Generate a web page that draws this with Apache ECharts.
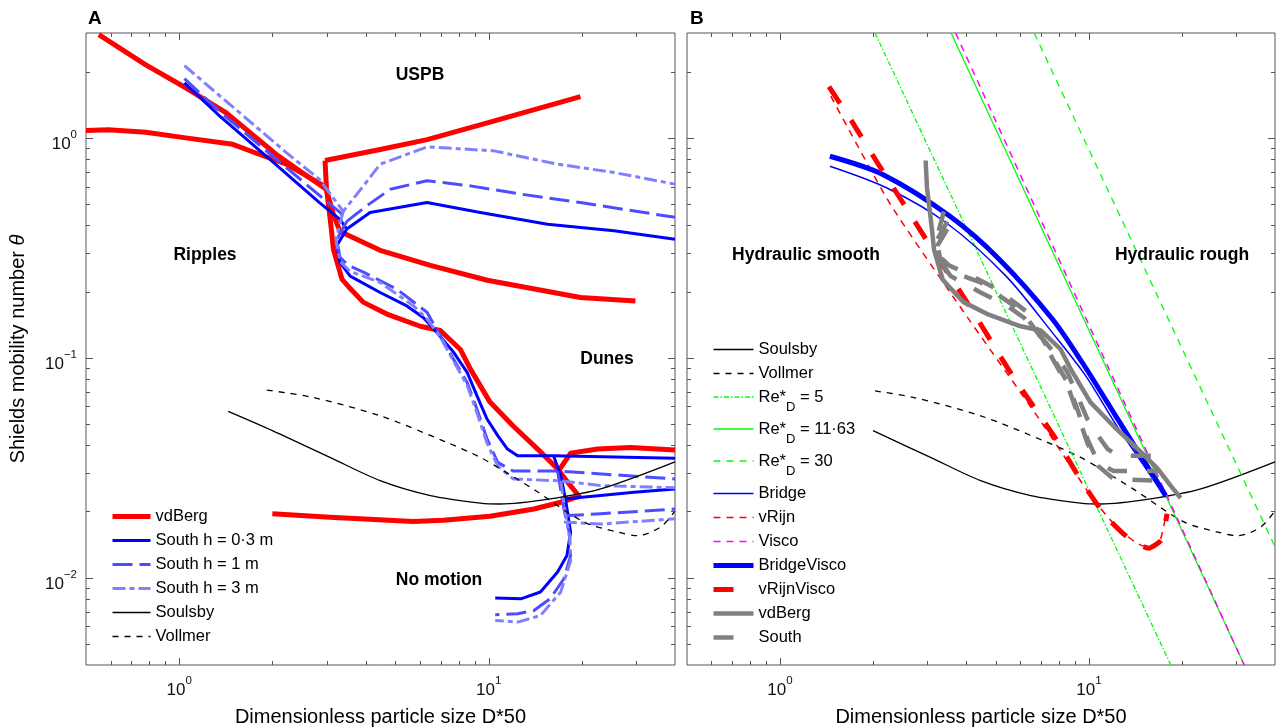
<!DOCTYPE html>
<html><head><meta charset="utf-8">
<script src="https://cdn.jsdelivr.net/npm/echarts@6/dist/echarts.min.js"></script>
<style>html,body{margin:0;padding:0;background:#fff}#c{width:1276px;height:727px}</style>
</head><body><div id="c"></div>
<script>
// ---------------- tick values / labels ----------------
const xTickMajor = [1, 10];
const xTickMinor = [0.6, 0.7, 0.8, 0.9, 2, 3, 4, 5, 6, 7, 8, 9, 20, 30];
const yTickMajor = [0.01, 0.1, 1];
const yTickMinor = [0.005, 0.006, 0.007, 0.008, 0.009, 0.02, 0.03, 0.04, 0.05, 0.06, 0.07, 0.08, 0.09,
                    0.2, 0.3, 0.4, 0.5, 0.6, 0.7, 0.8, 0.9, 2];
const xLabelExps = [0, 1];
const yLabelExps = [-2, -1, 0];

// ---------------- Panel A data ----------------
const vdBergFlatD = [0.50, 0.59, 0.78, 1.05, 1.49, 1.87, 2.22, 2.99];
const vdBergFlatT = [1.08, 1.09, 1.06, 1.00, 0.935, 0.829, 0.759, 0.595];
const vdBergDescD = [2.96, 2.99, 3.05, 3.11, 3.15, 3.26, 3.36, 3.52, 3.93, 4.74, 6.01, 6.98, 8.10, 8.73, 10.1, 12.0, 14.4, 16.7, 18.4, 19.8];
const vdBergDescT = [0.789, 0.595, 0.473, 0.372, 0.311, 0.263, 0.227, 0.211, 0.179, 0.157, 0.139, 0.133, 0.109, 0.0887, 0.0628, 0.0489, 0.0384, 0.0312, 0.0261, 0.0230];
const vdBergUspbD = [2.96, 4.46, 6.33, 9.90, 19.8];
const vdBergUspbT = [0.789, 0.885, 0.982, 1.17, 1.54];
const vdBergRippleD = [0.55, 0.78, 1.05, 1.42, 2.06, 2.99, 3.15, 3.31, 4.46, 6.48, 9.90, 19.8, 29.8];
const vdBergRippleT = [2.95, 2.15, 1.69, 1.30, 0.840, 0.582, 0.448, 0.375, 0.308, 0.263, 0.225, 0.188, 0.181];
const vdBergLowD = [2.00, 3.07, 5.71, 7.14, 10.1, 14.0, 17.1, 19.8];
const vdBergLowT = [0.0195, 0.0188, 0.0180, 0.0182, 0.0190, 0.0205, 0.0220, 0.0235];
const vdBergHighD = [16.8, 18.4, 22.5, 28.7, 40];
const vdBergHighT = [0.0305, 0.0368, 0.0384, 0.0390, 0.0380];

const s03TopD = [1.04, 1.35, 1.96, 2.84, 3.30, 3.48, 4.14, 6.32, 9.40, 15.5, 25.4, 40];
const s03TopT = [1.78, 1.26, 0.800, 0.508, 0.427, 0.385, 0.458, 0.508, 0.458, 0.405, 0.378, 0.346];
const s03DescD = [3.48, 3.23, 3.31, 3.57, 4.46, 5.44, 6.16, 6.81, 7.70, 8.52, 9.17, 9.88, 10.7, 11.5, 12.4, 16.2, 40];
const s03DescT = [0.385, 0.323, 0.271, 0.235, 0.198, 0.172, 0.152, 0.130, 0.106, 0.0857, 0.0671, 0.0526, 0.0442, 0.0384, 0.0358, 0.0358, 0.0349];
const s03HookD = [16.2, 17.1, 17.7, 18.4, 17.9, 16.7, 14.7, 12.7, 10.5];
const s03HookT = [0.0358, 0.0291, 0.0228, 0.0161, 0.0126, 0.0106, 0.00859, 0.0080, 0.00806];
const s03LowD = [17.8, 23.0, 29.5, 40];
const s03LowT = [0.0228, 0.0236, 0.0244, 0.0253];

const s1TopD = [1.04, 1.35, 1.96, 2.84, 3.31, 3.48, 4.04, 4.81, 6.32, 8.73, 12.7, 19.8, 40];
const s1TopT = [1.86, 1.32, 0.849, 0.547, 0.458, 0.417, 0.491, 0.584, 0.638, 0.605, 0.555, 0.508, 0.435];
const s1DescD = [3.48, 3.23, 3.31, 3.52, 3.94, 5.05, 6.32, 6.98, 7.70, 8.52, 9.17, 9.88, 10.7, 12.0, 16.7, 40];
const s1DescT = [0.417, 0.345, 0.286, 0.263, 0.245, 0.205, 0.161, 0.126, 0.0984, 0.0772, 0.0583, 0.0427, 0.0334, 0.0305, 0.0305, 0.0281];
const s1HookD = [16.7, 17.5, 18.2, 18.4, 17.5, 15.8, 14.0, 12.4, 10.5];
const s1HookT = [0.0305, 0.0205, 0.0161, 0.0126, 0.00987, 0.0080, 0.00708, 0.00684, 0.00677];
const s1LowD = [17.5, 23.0, 40];
const s1LowT = [0.0191, 0.0195, 0.0205];

const s3TopD = [1.04, 1.53, 2.22, 2.84, 3.39, 3.94, 4.46, 6.32, 10.4, 16.7, 25.4, 40];
const s3TopT = [2.13, 1.34, 0.857, 0.647, 0.463, 0.605, 0.759, 0.910, 0.873, 0.759, 0.696, 0.616];
const s3DescD = [3.39, 3.21, 3.31, 3.57, 4.46, 5.72, 6.32, 6.98, 7.70, 8.52, 9.17, 9.88, 10.7, 12.0, 17.1, 23.0, 40];
const s3DescT = [0.463, 0.345, 0.274, 0.247, 0.220, 0.172, 0.150, 0.124, 0.0964, 0.0750, 0.0560, 0.0409, 0.0322, 0.0281, 0.0275, 0.0262, 0.0256];
const s3HookD = [17.1, 17.7, 18.3, 18.4, 17.1, 14.7, 12.4, 10.5];
const s3HookT = [0.0275, 0.0195, 0.0150, 0.0119, 0.00859, 0.00672, 0.00627, 0.00638];
const s3LowD = [17.5, 23.0, 40];
const s3LowT = [0.0179, 0.0175, 0.0185];

const soulsbyD = [1.44, 2.00, 3.07, 4.46, 6.48, 9.40, 10.9, 15.8, 23.0, 40];
const soulsbyT = [0.0570, 0.0466, 0.0352, 0.0276, 0.0236, 0.0218, 0.0216, 0.0228, 0.0253, 0.0336];
const vollmerD = [1.92, 2.71, 4.46, 7.33, 9.40, 10.9, 13.9, 20.3, 26.1, 30.3, 36.0, 40];
const vollmerT = [0.0712, 0.0659, 0.0544, 0.0412, 0.0352, 0.0312, 0.0253, 0.0179, 0.0161, 0.0155, 0.0170, 0.0201];

// ---------------- Panel B data ----------------
const vollmerBD = [2.03, 2.71, 4.46, 7.33, 9.40, 10.9, 13.9, 20.3, 26.1, 30.3, 36.0, 40];
const vollmerBT = [0.0706, 0.0659, 0.0544, 0.0412, 0.0352, 0.0312, 0.0253, 0.0179, 0.0161, 0.0155, 0.0170, 0.0201];
const re5D = [2.03, 18.4];   const re5T = [3, 0.004];
const re11D = [3.58, 31.8];  const re11T = [3, 0.004];
const re30D = [6.65, 40];    const re30T = [3, 0.0138];
const viscoD = [3.70, 31.8]; const viscoT = [3, 0.004];
const bridgeD = [1.45, 2.21, 3.45, 5.39, 7.61, 9.76, 12.2, 17.7];
const bridgeT = [0.743, 0.593, 0.411, 0.235, 0.130, 0.0827, 0.0499, 0.0232];
const bridgeViscoD = [1.45, 2.15, 3.54, 5.13, 7.61, 9.51, 12.2, 17.7];
const bridgeViscoT = [0.825, 0.682, 0.441, 0.280, 0.150, 0.0951, 0.0544, 0.0236];
const vRijnD = [1.46, 2.26, 3.81, 6.90, 10.3, 12.5, 15.1, 16.8, 17.7];
const vRijnT = [1.55, 0.507, 0.172, 0.0526, 0.0228, 0.0166, 0.0139, 0.0142, 0.0189];
const vRijnViscoD = [1.44, 1.72, 2.10, 2.50, 2.97, 4.10, 5.66, 7.81, 9.51, 11.3, 13.5, 15.6, 17.1, 17.9];
const vRijnViscoT = [1.71, 1.17, 0.743, 0.507, 0.345, 0.172, 0.0827, 0.0427, 0.0271, 0.0191, 0.0150, 0.0136, 0.0148, 0.0195];

// ---------------- helpers ----------------
const FONT = '"Liberation Sans", Arial, Helvetica, sans-serif';
const AXC = '#555';
function pts(D, T) { return D.map((d, i) => [d, T[i]]); }
function line(name, D, T, st, gi, smooth) {
  return {
    type: 'line', name: name, xAxisIndex: gi, yAxisIndex: gi, data: pts(D, T),
    symbol: 'none', showSymbol: false, silent: true, clip: true, smooth: smooth || false,
    lineStyle: { color: st.color, width: st.width, type: st.type || 'solid', cap: 'butt', join: 'round' },
    itemStyle: { color: st.color }, emphasis: { disabled: true }
  };
}
const stRed = { color: '#ff0000', width: 5 };
const st03 = { color: '#0000ff', width: 3 };
const st1 = { color: '#4d4dff', width: 3, type: [20, 7] };
const st3 = { color: '#8080ff', width: 3, type: [13, 4, 5, 4] };
const stSoul = { color: '#000000', width: 1.3 };
const stVoll = { color: '#000000', width: 1.3, type: [6, 6] };
const stRe5 = { color: '#00ff00', width: 1.3, type: [5, 2, 1.5, 2] };
const stRe11 = { color: '#00ff00', width: 1.3 };
const stRe30 = { color: '#00ff00', width: 1.3, type: [7, 6] };
const stBridge = { color: '#0000ff', width: 1.5 };
const stVRijn = { color: '#ff0000', width: 1.5, type: [7, 6] };
const stVisco = { color: '#ff00ff', width: 1.5, type: [7, 6] };
const stBridgeV = { color: '#0000ff', width: 5 };
const stVRijnV = { color: '#ff0000', width: 5, type: [20, 20] };
const stGray = { color: '#808080', width: 4.5 };
const stGrayD = { color: '#808080', width: 4.5, type: [20, 20] };

function expLabel(v, exps) {
  const l = Math.log10(v), e = Math.round(l);
  if (Math.abs(l - e) > 1e-6 || exps.indexOf(e) < 0) return '';
  return '{b|10}{s|' + (e < 0 ? '\u2212' + (-e) : String(e)) + '}';
}
const richLab = {
  b: { fontSize: 17, lineHeight: 17, verticalAlign: 'bottom', fontFamily: FONT, color: '#111' },
  s: { fontSize: 11.5, lineHeight: 11.5, verticalAlign: 'bottom', padding: [0, 0, 12, 0], fontFamily: FONT, color: '#111' }
};

function tickSeries(gi, dir) {
  const maj = dir === 'x' ? xTickMajor : yTickMajor;
  const min = dir === 'x' ? xTickMinor : yTickMinor;
  const vals = maj.map(v => [v, 1]).concat(min.map(v => [v, 0]));
  return {
    type: 'custom', xAxisIndex: gi, yAxisIndex: gi, silent: true, z: 10,
    data: vals.map(p => dir === 'x' ? [p[0], 1, p[1]] : [1, p[0], p[1]]),
    renderItem: function (params, api) {
      const cs = params.coordSys;
      const len = api.value(2) === 1 ? 7 : 4;
      const st = { stroke: AXC, lineWidth: 1 };
      if (dir === 'x') {
        const x = Math.round(api.coord([api.value(0), 1])[0]) + 0.5;
        const yb = cs.y + cs.height, yt = cs.y;
        return { type: 'group', children: [
          { type: 'line', shape: { x1: x, y1: yb, x2: x, y2: yb - len }, style: st },
          { type: 'line', shape: { x1: x, y1: yt, x2: x, y2: yt + len }, style: st }
        ] };
      } else {
        const y = Math.round(api.coord([1, api.value(1)])[1]) + 0.5;
        const xl = cs.x, xr = cs.x + cs.width;
        return { type: 'group', children: [
          { type: 'line', shape: { x1: xl, y1: y, x2: xl + len, y2: y }, style: st },
          { type: 'line', shape: { x1: xr, y1: y, x2: xr - len, y2: y }, style: st }
        ] };
      }
    }
  };
}

const series = [
  // Panel A
  line('vdBerg', vdBergFlatD, vdBergFlatT, stRed, 0),
  line('vdBerg', vdBergDescD, vdBergDescT, stRed, 0),
  line('vdBerg', vdBergUspbD, vdBergUspbT, stRed, 0),
  line('vdBerg', vdBergRippleD, vdBergRippleT, stRed, 0),
  line('vdBerg', vdBergLowD, vdBergLowT, stRed, 0),
  line('vdBerg', vdBergHighD, vdBergHighT, stRed, 0),
  line('South h = 0·3 m', s03TopD, s03TopT, st03, 0),
  line('South h = 0·3 m', s03DescD, s03DescT, st03, 0),
  line('South h = 0·3 m', s03HookD, s03HookT, st03, 0),
  line('South h = 0·3 m', s03LowD, s03LowT, st03, 0),
  line('South h = 1 m', s1TopD, s1TopT, st1, 0),
  line('South h = 1 m', s1DescD, s1DescT, st1, 0),
  line('South h = 1 m', s1HookD, s1HookT, st1, 0),
  line('South h = 1 m', s1LowD, s1LowT, st1, 0),
  line('South h = 3 m', s3TopD, s3TopT, st3, 0),
  line('South h = 3 m', s3DescD, s3DescT, st3, 0),
  line('South h = 3 m', s3HookD, s3HookT, st3, 0),
  line('South h = 3 m', s3LowD, s3LowT, st3, 0),
  line('Soulsby', soulsbyD, soulsbyT, stSoul, 0, 0.3),
  line('Vollmer', vollmerD, vollmerT, stVoll, 0, 0.3),
  // Panel B
  line('SoulsbyB', soulsbyD.slice(1), soulsbyT.slice(1), stSoul, 1, 0.3),
  line('VollmerB', vollmerBD, vollmerBT, stVoll, 1, 0.3),
  line('Re5', re5D, re5T, stRe5, 1),
  line('Re11', re11D, re11T, stRe11, 1),
  line('Re30', re30D, re30T, stRe30, 1),
  line('Bridge', bridgeD, bridgeT, stBridge, 1, 0.3),
  line('vRijn', vRijnD, vRijnT, stVRijn, 1, 0.2),
  line('Visco', viscoD, viscoT, stVisco, 1),
  line('BridgeVisco', bridgeViscoD, bridgeViscoT, stBridgeV, 1, 0.3),
  line('vRijnVisco', vRijnViscoD, vRijnViscoT, stVRijnV, 1, 0.2),
  line('vdBergB', vdBergDescD, vdBergDescT, stGray, 1),
  line('SouthB', s03DescD.slice(0, 16), s03DescT.slice(0, 16), stGrayD, 1),
  line('SouthB', s1DescD.slice(0, 15), s1DescT.slice(0, 15), stGrayD, 1),
  line('SouthB', s3DescD.slice(0, 15), s3DescT.slice(0, 15), stGrayD, 1),
  tickSeries(0, 'x'), tickSeries(0, 'y'), tickSeries(1, 'x'), tickSeries(1, 'y')
];

const legendLabels = {
  'SoulsbyB': 'Soulsby', 'VollmerB': 'Vollmer',
  'Re5': '{m|Re*}{d|D}{m| = 5}', 'Re11': '{m|Re*}{d|D}{m| = 11·63}', 'Re30': '{m|Re*}{d|D}{m| = 30}',
  'vdBergB': 'vdBerg', 'SouthB': 'South'
};
const legendText = {
  fontSize: 16.5, lineHeight: 16, fontFamily: FONT, color: '#000',
  rich: {
    m: { fontSize: 16.5, lineHeight: 16, verticalAlign: 'top', fontFamily: FONT, color: '#000' },
    d: { fontSize: 13, lineHeight: 13, verticalAlign: 'top', padding: [12, 0, 0, 0], fontFamily: FONT, color: '#000' }
  }
};
function legend(left, top, data, w) {
  return {
    orient: 'vertical', left: left, top: top, padding: 0, itemGap: 7, itemWidth: w, itemHeight: 14,
    selectedMode: false, data: data, textStyle: legendText,
    formatter: n => legendLabels[n] || n,
    lineStyle: { width: 'inherit' }, itemStyle: { opacity: 0 }, inactiveColor: '#000'
  };
}

function xAx(gi) {
  return {
    type: 'log', logBase: 10, gridIndex: gi, min: 0.5, max: 40,
    axisLine: { show: false }, axisTick: { show: false }, splitLine: { show: false },
    axisLabel: { margin: 17, formatter: v => expLabel(v, xLabelExps), rich: richLab, hideOverlap: false },
    name: 'Dimensionless particle size D*50', nameLocation: 'middle', nameGap: 42,
    nameTextStyle: { fontSize: 20, fontFamily: FONT, color: '#000' }
  };
}
function yAx(gi) {
  return {
    type: 'log', logBase: 10, gridIndex: gi, min: 0.004, max: 3,
    axisLine: { show: false }, axisTick: { show: false }, splitLine: { show: false },
    axisLabel: { show: gi === 0, margin: 9, padding: [13, 0, 0, 0], formatter: v => expLabel(v, yLabelExps), rich: richLab },
    name: gi === 0 ? '{n|Shields mobility number }{i|θ}' : '', nameLocation: 'middle', nameGap: 58, nameRotate: 90,
    nameTextStyle: { fontSize: 20, fontFamily: FONT, color: '#000',
      rich: { n: { fontSize: 20, fontFamily: FONT, color: '#000' }, i: { fontSize: 20, fontStyle: 'italic', fontFamily: FONT, color: '#000' } } }
  };
}
function txt(x, y, t, size, align) {
  return { type: 'text', x: x, y: y, silent: true, z: 20,
    style: { text: t, font: 'bold ' + size + 'px ' + FONT, fill: '#000', align: align || 'center', verticalAlign: 'middle' } };
}

const chart = echarts.init(document.getElementById('c'), null, { renderer: 'canvas' });
chart.setOption({
  animation: false,
  backgroundColor: '#fff',
  grid: [
    { left: 86, top: 33, width: 589, height: 632, show: true, borderColor: AXC, borderWidth: 1, backgroundColor: 'transparent', containLabel: false, outerBoundsMode: 'none' },
    { left: 687, top: 33, width: 588, height: 632, show: true, borderColor: AXC, borderWidth: 1, backgroundColor: 'transparent', containLabel: false, outerBoundsMode: 'none' }
  ],
  xAxis: [xAx(0), xAx(1)],
  yAxis: [yAx(0), yAx(1)],
  legend: [
    legend(110, 508, ['vdBerg', 'South h = 0·3 m', 'South h = 1 m', 'South h = 3 m', 'Soulsby', 'Vollmer'], 38),
    legend(711, 341, ['SoulsbyB', 'VollmerB', 'Re5', 'Re11', 'Re30', 'Bridge', 'vRijn', 'Visco', 'BridgeVisco', 'vRijnVisco', 'vdBergB', 'SouthB'], 40)
  ],
  graphic: [
    txt(88, 19, 'A', 19, 'left'), txt(690, 19, 'B', 19, 'left'),
    txt(420, 75, 'USPB', 17.5), txt(205, 255, 'Ripples', 17.5), txt(607, 359, 'Dunes', 17.5), txt(439, 580, 'No motion', 17.5),
    txt(806, 255, 'Hydraulic smooth', 17.5), txt(1182, 255, 'Hydraulic rough', 17.5)
  ],
  series: series
});
</script></body></html>
